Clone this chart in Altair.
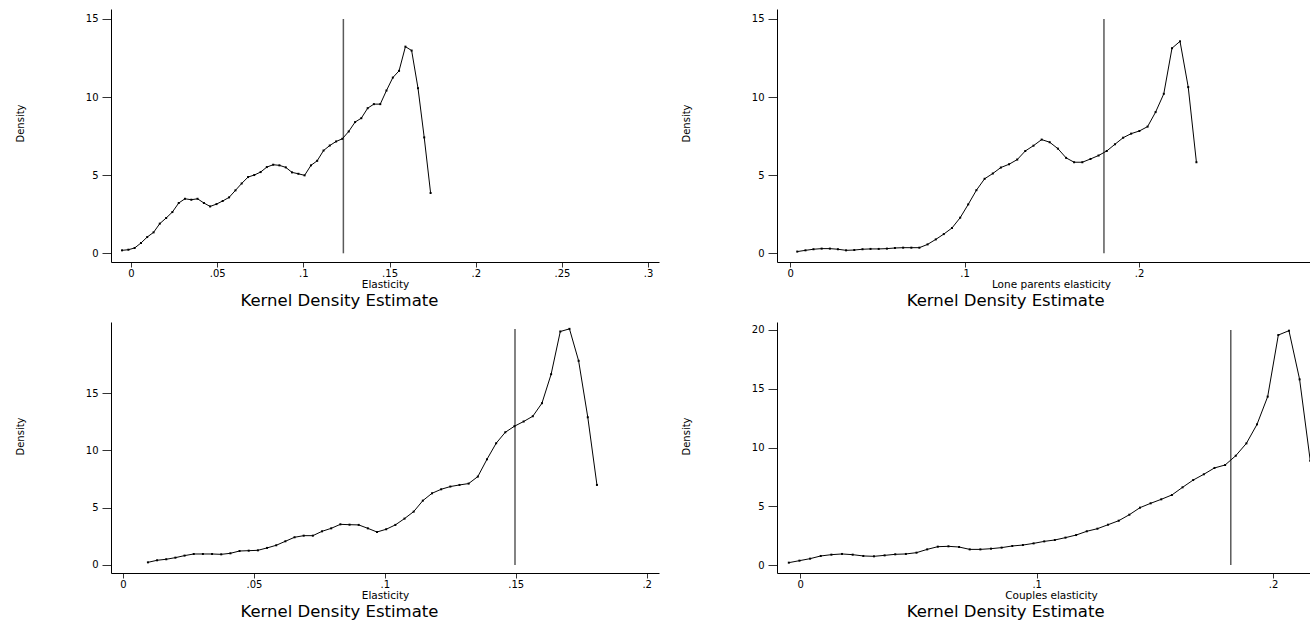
import altair as alt
import pandas as pd

FONT = "DejaVu Sans"

# ---- Panel 1 (top-left): Elasticity ----
x1 = [-0.0052, -0.0015, 0.0021, 0.0058, 0.0094, 0.0131, 0.0167, 0.0204, 0.0240, 0.0277,
      0.0313, 0.0350, 0.0386, 0.0423, 0.0459, 0.0496, 0.0532, 0.0569, 0.0606, 0.0642,
      0.0679, 0.0715, 0.0752, 0.0788, 0.0825, 0.0861, 0.0898, 0.0934, 0.0971, 0.1007,
      0.1044, 0.1080, 0.1117, 0.1153, 0.1190, 0.1226, 0.1263, 0.1300, 0.1336, 0.1373,
      0.1409, 0.1446, 0.1482, 0.1519, 0.1555, 0.1592, 0.1628, 0.1665, 0.1701, 0.1738]
y1 = [0.19, 0.23, 0.34, 0.66, 1.04, 1.34, 1.90, 2.26, 2.64, 3.22,
      3.49, 3.43, 3.49, 3.22, 3.00, 3.15, 3.35, 3.58, 4.03, 4.47,
      4.88, 5.01, 5.20, 5.52, 5.67, 5.63, 5.50, 5.18, 5.09, 4.99,
      5.63, 5.92, 6.58, 6.90, 7.16, 7.33, 7.80, 8.40, 8.65, 9.29,
      9.55, 9.55, 10.42, 11.25, 11.68, 13.23, 12.98, 10.57, 7.42, 3.86]

# ---- Panel 2 (top-right): Lone parents elasticity ----
x2 = [0.0041, 0.0088, 0.0134, 0.0181, 0.0228, 0.0274, 0.0321, 0.0368, 0.0415, 0.0461,
      0.0508, 0.0555, 0.0601, 0.0648, 0.0695, 0.0741, 0.0788, 0.0835, 0.0881, 0.0928,
      0.0975, 0.1021, 0.1068, 0.1115, 0.1162, 0.1208, 0.1255, 0.1302, 0.1348, 0.1395,
      0.1442, 0.1488, 0.1535, 0.1582, 0.1628, 0.1675, 0.1722, 0.1768, 0.1815, 0.1862,
      0.1909, 0.1955, 0.2002, 0.2049, 0.2095, 0.2142, 0.2189, 0.2235, 0.2282, 0.2329]
y2 = [0.11, 0.19, 0.26, 0.30, 0.30, 0.26, 0.19, 0.21, 0.26, 0.28,
      0.28, 0.30, 0.34, 0.36, 0.36, 0.36, 0.57, 0.89, 1.23, 1.62,
      2.28, 3.13, 4.04, 4.77, 5.11, 5.49, 5.70, 6.00, 6.55, 6.89,
      7.28, 7.11, 6.70, 6.11, 5.83, 5.83, 6.04, 6.26, 6.55, 6.98,
      7.40, 7.66, 7.83, 8.11, 9.04, 10.21, 13.13, 13.57, 10.64, 5.83]

# ---- Panel 3 (bottom-left): Elasticity ----
x3 = [0.0095, 0.0130, 0.0165, 0.0200, 0.0235, 0.0270, 0.0305, 0.0340, 0.0375, 0.0410,
      0.0445, 0.0480, 0.0515, 0.0550, 0.0585, 0.0620, 0.0655, 0.0690, 0.0725, 0.0760,
      0.0795, 0.0830, 0.0865, 0.0900, 0.0935, 0.0970, 0.1005, 0.1040, 0.1075, 0.1110,
      0.1145, 0.1180, 0.1215, 0.1250, 0.1285, 0.1320, 0.1355, 0.1390, 0.1425, 0.1460,
      0.1495, 0.1530, 0.1565, 0.1600, 0.1635, 0.1670, 0.1705, 0.1740, 0.1775, 0.1810]
y3 = [0.23, 0.41, 0.50, 0.64, 0.82, 0.96, 0.96, 0.96, 0.93, 1.02,
      1.22, 1.25, 1.28, 1.49, 1.72, 2.07, 2.42, 2.56, 2.56, 2.94,
      3.20, 3.55, 3.52, 3.50, 3.20, 2.88, 3.12, 3.50, 4.05, 4.66,
      5.62, 6.26, 6.61, 6.85, 6.99, 7.11, 7.72, 9.23, 10.63, 11.59,
      12.12, 12.53, 12.99, 14.13, 16.66, 20.39, 20.62, 17.83, 12.90, 6.99]

# ---- Panel 4 (bottom-right): Couples elasticity ----
x4 = [-0.0048, -0.0003, 0.0042, 0.0087, 0.0132, 0.0177, 0.0222, 0.0267, 0.0312, 0.0357,
      0.0402, 0.0447, 0.0492, 0.0537, 0.0582, 0.0627, 0.0672, 0.0717, 0.0762, 0.0807,
      0.0852, 0.0897, 0.0942, 0.0987, 0.1032, 0.1077, 0.1122, 0.1167, 0.1212, 0.1257,
      0.1302, 0.1347, 0.1392, 0.1437, 0.1482, 0.1527, 0.1572, 0.1617, 0.1662, 0.1707,
      0.1752, 0.1797, 0.1842, 0.1887, 0.1932, 0.1977, 0.2022, 0.2067, 0.2112, 0.2157]
y4 = [0.20, 0.37, 0.54, 0.77, 0.88, 0.94, 0.88, 0.77, 0.74, 0.82,
      0.91, 0.94, 1.05, 1.33, 1.56, 1.59, 1.53, 1.33, 1.33, 1.39,
      1.48, 1.62, 1.70, 1.84, 2.01, 2.13, 2.33, 2.55, 2.87, 3.09,
      3.43, 3.77, 4.28, 4.88, 5.25, 5.59, 5.96, 6.61, 7.23, 7.72,
      8.26, 8.51, 9.30, 10.35, 11.97, 14.33, 19.57, 19.94, 15.80, 8.88]

# vertical reference lines (x position, top of line)
ref_x = [0.1232, 0.1799, 0.1497, 0.1821]
ref_top = [15, 15, 20.6, 20.0]

x_titles = ["Elasticity", "Lone parents elasticity", "Elasticity", "Couples elasticity"]
x_ticks = [[0, 0.05, 0.1, 0.15, 0.2, 0.25, 0.3],
           [0, 0.1, 0.2, 0.3],
           [0, 0.05, 0.1, 0.15, 0.2],
           [0, 0.1, 0.2]]
y_ticks = [[0, 5, 10, 15], [0, 5, 10, 15], [0, 5, 10, 15], [0, 5, 10, 15, 20]]
x_domains = [[-0.0116, 0.3063], [-0.0075, 0.2980], [-0.0046, 0.2047], [-0.0098, 0.2156]]
y_domains = [[-0.557, 15.64], [-0.557, 15.64], [-0.70, 21.22], [-0.68, 20.68]]
widths = [548, 533, 548, 533]
heights = [253, 253, 251, 251]
kde_dx = [-45.6, -37.9, -45.6, -37.9]

LABEL_EXPR = "datum.value == 0 ? '0' : slice(format(datum.value, '.2~f'), 1)"


def panel(i, xs, ys):
    df = pd.DataFrame({"x": xs, "y": ys})
    rdf = pd.DataFrame({"x": [ref_x[i]], "y": [0.0], "y_top": [ref_top[i]]})
    xsc = alt.Scale(domain=x_domains[i], nice=False, zero=False)
    ysc = alt.Scale(domain=y_domains[i], nice=False, zero=False)
    xax = alt.Axis(values=x_ticks[i], labelExpr=LABEL_EXPR, title=x_titles[i],
                   tickSize=5, labelPadding=1.5, titlePadding=0.5, titleX=274,
                   labelFlush=False, labelFontSize=10, titleFontSize=10.5, grid=False)
    yax = alt.Axis(values=y_ticks[i], title="Density", tickSize=9, labelPadding=4,
                   titlePadding=60, titleY=114, labelFontSize=10, titleFontSize=10,
                   grid=False, labelFlush=False)
    X = alt.X("x:Q", scale=xsc, axis=xax)
    Y = alt.Y("y:Q", scale=ysc, axis=yax)
    ref = alt.Chart(rdf).mark_rule(color="#5a5a5a", strokeWidth=1.5).encode(
        x=X, y=Y, y2="y_top:Q")
    line = alt.Chart(df).mark_line(color="black", strokeWidth=1, clip=True).encode(x=X, y=Y)
    pts = alt.Chart(df).mark_square(size=4, color="black", opacity=1, clip=True).encode(x=X, y=Y)
    return alt.layer(ref, line, pts).properties(
        width=widths[i], height=heights[i],
        title=alt.TitleParams("Kernel Density Estimate", orient="bottom", anchor="middle",
                              frame="group", dx=kde_dx[i], offset=3, fontSize=16.5,
                              font=FONT, fontWeight="normal", color="black"))


panels = [panel(0, x1, y1), panel(1, x2, y2), panel(2, x3, y3), panel(3, x4, y4)]

chart = alt.concat(*panels, columns=2, spacing={"row": 60, "column": 118}, bounds="flush").properties(
    padding={"left": 15, "top": 9, "right": 0, "bottom": 1},
    background="white",
).configure_view(stroke=None).configure_axis(
    domainColor="black", tickColor="#333333", labelColor="black", titleColor="black",
    labelFont=FONT, titleFont=FONT, titleFontWeight="normal", domainWidth=1,
)

chart.save("out.html", embed_options={"renderer": "svg", "actions": False})
